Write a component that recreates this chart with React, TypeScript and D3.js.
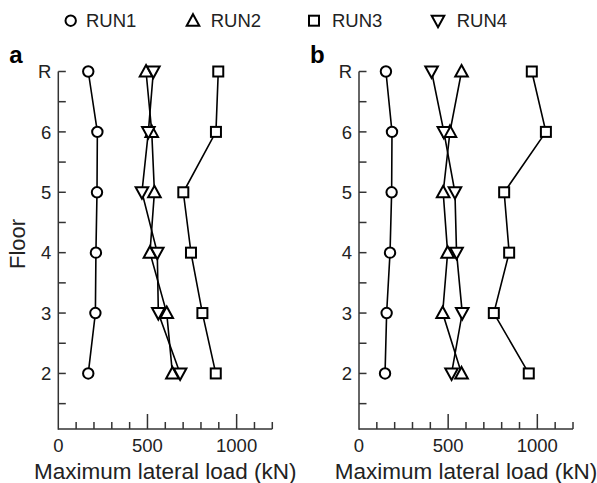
import React from "react";
import * as d3 from "d3";

const floors = [2, 3, 4, 5, 6, 7];
const floorLabels = ["2", "3", "4", "5", "6", "R"];
const xTickLabels = [0, 500, 1000];
const seriesNames = ["RUN1", "RUN2", "RUN3", "RUN4"];

// panel a values, floors 2,3,4,5,6,R
const a_run1 = [168, 208, 211, 217, 219, 168];
const a_run2 = [640, 608, 514, 539, 524, 492];
const a_run3 = [883, 808, 744, 701, 884, 897];
const a_run4 = [683, 561, 555, 469, 505, 533];

// panel b values
const b_run1 = [146, 155, 174, 183, 185, 151];
const b_run2 = [575, 469, 497, 472, 510, 575];
const b_run3 = [952, 756, 842, 814, 1048, 969];
const b_run4 = [519, 579, 547, 538, 476, 407];

const FONT = "'Liberation Sans', Arial, Helvetica, sans-serif";
const AXIS = "#333";

type Shape = "circle" | "tri" | "square" | "itri";
const shapes: Shape[] = ["circle", "tri", "square", "itri"];

function Marker({ shape, x, y }: { shape: Shape; x: number; y: number }) {
  const common = { fill: "#fff", stroke: "#000", strokeWidth: 2 };
  if (shape === "circle") return <circle cx={x} cy={y} r={5.2} {...common} />;
  if (shape === "square") return <rect x={x - 5} y={y - 5} width={10} height={10} {...common} />;
  if (shape === "tri")
    return <path d={`M${x},${y - 6.5}L${x + 6.3},${y + 5}L${x - 6.3},${y + 5}Z`} {...common} strokeLinejoin="miter" />;
  return <path d={`M${x},${y + 6.5}L${x + 6.3},${y - 5}L${x - 6.3},${y - 5}Z`} {...common} strokeLinejoin="miter" />;
}

function Panel({ x0, label, data }: { x0: number; label: string; data: number[][] }) {
  const x = d3.scaleLinear().domain([0, 1200]).range([x0, x0 + 214]);
  const y = d3.scaleLinear().domain([1.08, 7]).range([429, 71.5]);
  const line = d3
    .line<[number, number]>()
    .x((d) => x(d[0]))
    .y((d) => y(d[1]));
  const minorX = d3.range(100, 1201, 100);
  const yTicks = d3.range(1.5, 7.01, 0.5);
  return (
    <g>
      <text x={x0 - 49} y={63} fontSize={24} fontWeight="bold" fontFamily={FONT}>
        {label}
      </text>
      <line x1={x(0)} x2={x(1200)} y1={y(1.08)} y2={y(1.08)} stroke={AXIS} strokeWidth={1.5} />
      <line x1={x(0)} x2={x(0)} y1={y(1.08) + 0.75} y2={y(7)} stroke={AXIS} strokeWidth={1.5} />
      {minorX.map((t) => (
        <line
          key={"xt" + t}
          x1={x(t)}
          x2={x(t)}
          y1={y(1.08)}
          y2={y(1.08) - (t % 500 === 0 ? 15 : 7)}
          stroke={AXIS}
          strokeWidth={1.5}
        />
      ))}
      {yTicks.map((t) => (
        <line key={"yt" + t} x1={x(0)} x2={x(0) + 7.5} y1={y(t)} y2={y(t)} stroke={AXIS} strokeWidth={1.5} />
      ))}
      {xTickLabels.map((t) => (
        <text key={"xl" + t} x={x(t)} y={451.5} textAnchor="middle" fontSize={18.5} fontFamily={FONT} fill="#222">
          {t}
        </text>
      ))}
      {floors.map((f, i) => (
        <text
          key={"yl" + f}
          x={x(0) - 7}
          y={y(f)}
          dy="0.36em"
          textAnchor="end"
          fontSize={18.5}
          fontFamily={FONT}
          fill="#222"
        >
          {floorLabels[i]}
        </text>
      ))}
      <text x={x(600)} y={478.5} textAnchor="middle" fontSize={22.5} fontFamily={FONT} fill="#222">
        Maximum lateral load (kN)
      </text>
      {data.map((vals, si) => (
        <path
          key={"l" + si}
          d={line(vals.map((v, i) => [v, floors[i]] as [number, number])) || ""}
          fill="none"
          stroke="#000"
          strokeWidth={1.6}
        />
      ))}
      {data.map((vals, si) =>
        vals.map((v, i) => <Marker key={"m" + si + "-" + i} shape={shapes[si]} x={x(v)} y={y(floors[i])} />)
      )}
    </g>
  );
}

const legendX = [70.7, 193, 314, 438];
const legendTextX = [86, 210.7, 332, 456.7];

export default function App() {
  return (
    <svg width={597} height={483} style={{ position: "absolute", left: 0, top: 0 }}>
      <rect width={597} height={483} fill="#fff" />
      {seriesNames.map((n, i) => (
        <g key={n}>
          <Marker shape={shapes[i]} x={legendX[i]} y={20.7} />
          <text x={legendTextX[i]} y={27.3} fontSize={18.5} fontFamily={FONT} fill="#222">
            {n}
          </text>
        </g>
      ))}
      <text
        transform="translate(25,244) rotate(-90)"
        textAnchor="middle"
        fontSize={22}
        fontFamily={FONT}
        fill="#222"
      >
        Floor
      </text>
      <Panel x0={58.3} label="a" data={[a_run1, a_run2, a_run3, a_run4]} />
      <Panel x0={359} label="b" data={[b_run1, b_run2, b_run3, b_run4]} />
    </svg>
  );
}
